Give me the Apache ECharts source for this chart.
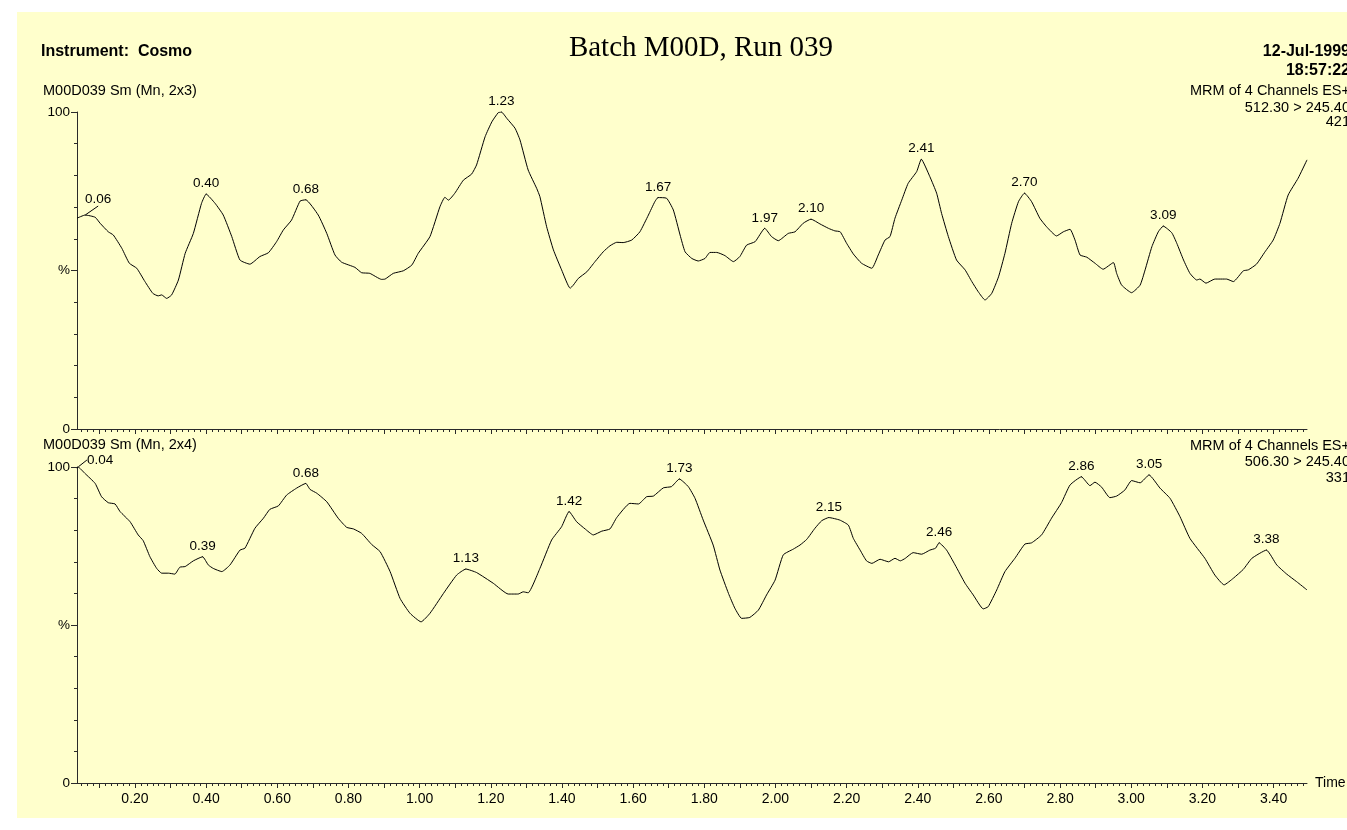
<!DOCTYPE html>
<html>
<head>
<meta charset="utf-8">
<script src="https://cdn.jsdelivr.net/npm/echarts@6/dist/echarts.min.js"></script>
<style>
  html, body { margin: 0; padding: 0; background: #ffffff; }
  #chart { width: 1347px; height: 830px; }
</style>
</head>
<body>
<div id="chart"></div>
<script>
// Trace 2x3: retention time (min) and relative intensity (%)
const topTimes = [
  0.037, 0.06, 0.088, 0.102, 0.125, 0.139, 0.163, 0.184, 0.205, 0.228, 0.250, 0.265, 0.275, 0.289, 0.303,
  0.322, 0.341, 0.364, 0.387, 0.40, 0.425, 0.448, 0.472, 0.495, 0.523, 0.551, 0.575, 0.598, 0.617, 0.640,
  0.664, 0.68, 0.715, 0.739, 0.762, 0.781, 0.818, 0.837, 0.860, 0.893, 0.903, 0.926, 0.954, 0.978, 0.996,
  1.029, 1.057, 1.071, 1.081, 1.099, 1.123, 1.146, 1.160, 1.184, 1.203, 1.221, 1.23, 1.245, 1.268, 1.282,
  1.305, 1.329, 1.338, 1.357, 1.376, 1.399, 1.423, 1.432, 1.446, 1.470, 1.493, 1.516, 1.535, 1.554, 1.572,
  1.596, 1.619, 1.643, 1.661, 1.67, 1.694, 1.713, 1.732, 1.746, 1.765, 1.783, 1.802, 1.816, 1.835, 1.858,
  1.882, 1.900, 1.919, 1.943, 1.97, 1.989, 2.008, 2.036, 2.055, 2.078, 2.10, 2.125, 2.149, 2.167, 2.182,
  2.200, 2.219, 2.242, 2.271, 2.289, 2.308, 2.322, 2.336, 2.355, 2.373, 2.397, 2.41, 2.434, 2.453, 2.467,
  2.486, 2.509, 2.533, 2.552, 2.570, 2.589, 2.608, 2.627, 2.645, 2.664, 2.683, 2.70, 2.720, 2.743, 2.762,
  2.790, 2.809, 2.828, 2.842, 2.856, 2.875, 2.898, 2.921, 2.950, 2.959, 2.973, 3.001, 3.025, 3.039, 3.058,
  3.076, 3.09, 3.114, 3.128, 3.147, 3.165, 3.184, 3.193, 3.210, 3.235, 3.268, 3.287, 3.315, 3.329, 3.352,
  3.376, 3.399, 3.418, 3.441, 3.469, 3.494
];
const topValues = [
  66.5, 67.5, 66.8, 64.9, 62.2, 61.2, 57.0, 52.3, 50.7, 46.5, 42.8, 42.0, 42.3, 41.2, 42.3,
  47.0, 55.4, 61.7, 71.2, 74.1, 71.2, 67.5, 60.7, 53.3, 52.0, 54.4, 55.6, 59.1, 62.8, 65.9,
  71.9, 72.3, 67.5, 61.7, 54.9, 52.6, 51.0, 49.3, 49.1, 47.2, 47.3, 49.1, 49.9, 51.7, 55.4,
  60.7, 70.1, 73.1, 72.2, 74.4, 78.5, 80.4, 83.3, 92.2, 96.9, 99.8, 100.0, 98.0, 94.9, 91.2,
  81.7, 75.9, 73.3, 63.8, 56.5, 50.2, 44.4, 45.4, 47.5, 49.6, 52.8, 55.9, 57.8, 58.9, 58.8,
  59.6, 62.2, 67.5, 71.7, 73.0, 72.8, 69.1, 61.2, 55.9, 53.8, 53.0, 53.8, 55.7, 55.7, 54.7,
  52.8, 54.4, 58.0, 59.1, 63.3, 60.7, 59.4, 61.7, 62.2, 64.9, 66.2, 64.7, 63.3, 62.5, 62.2,
  58.6, 55.2, 52.3, 50.7, 54.9, 59.6, 60.7, 66.5, 72.2, 77.5, 81.2, 85.1, 79.6, 74.4, 68.0,
  60.7, 53.3, 50.2, 46.5, 43.3, 40.7, 42.8, 48.0, 55.4, 64.9, 71.7, 74.4, 71.7, 66.5, 63.8,
  60.9, 62.2, 63.0, 59.6, 54.9, 54.2, 52.3, 50.4, 52.5, 49.1, 45.4, 43.0, 45.4, 50.2, 57.5,
  62.2, 64.0, 61.9, 58.6, 53.3, 49.1, 47.0, 47.3, 46.0, 47.3, 47.3, 46.5, 49.9, 50.2, 52.0,
  55.9, 59.6, 64.9, 73.8, 79.1, 84.9
];
const topPeaks = [0.06, 0.40, 0.68, 1.23, 1.67, 1.97, 2.10, 2.41, 2.70, 3.09];

// Trace 2x4
const bottomTimes = [
  0.037, 0.04, 0.059, 0.088, 0.106, 0.125, 0.144, 0.158, 0.186, 0.209, 0.223, 0.242, 0.261, 0.275, 0.294,
  0.312, 0.326, 0.341, 0.364, 0.39, 0.406, 0.420, 0.444, 0.467, 0.495, 0.509, 0.537, 0.561, 0.579, 0.603,
  0.626, 0.654, 0.68, 0.692, 0.711, 0.739, 0.771, 0.795, 0.814, 0.837, 0.865, 0.889, 0.917, 0.945, 0.973,
  1.004, 1.029, 1.067, 1.104, 1.13, 1.160, 1.207, 1.249, 1.277, 1.291, 1.305, 1.338, 1.371, 1.399, 1.42,
  1.441, 1.465, 1.488, 1.512, 1.535, 1.554, 1.591, 1.615, 1.638, 1.657, 1.685, 1.708, 1.73, 1.755, 1.774,
  1.797, 1.825, 1.844, 1.868, 1.886, 1.905, 1.928, 1.952, 1.975, 1.999, 2.022, 2.050, 2.069, 2.088, 2.111,
  2.130, 2.15, 2.181, 2.205, 2.219, 2.238, 2.256, 2.271, 2.294, 2.318, 2.336, 2.351, 2.365, 2.387, 2.411,
  2.434, 2.450, 2.46, 2.481, 2.505, 2.533, 2.556, 2.584, 2.598, 2.622, 2.645, 2.673, 2.701, 2.720, 2.748,
  2.776, 2.804, 2.828, 2.86, 2.884, 2.898, 2.917, 2.940, 2.959, 2.982, 3.001, 3.025, 3.05, 3.081, 3.109,
  3.137, 3.165, 3.207, 3.235, 3.261, 3.287, 3.315, 3.339, 3.38, 3.409, 3.437, 3.465, 3.494
];
const bottomValues = [
  99.6, 100.0, 98.0, 94.8, 90.6, 88.7, 88.3, 85.9, 82.7, 78.5, 76.7, 71.6, 67.9, 66.4, 66.4,
  66.1, 68.3, 68.5, 70.3, 71.6, 69.0, 67.9, 66.9, 69.0, 73.7, 74.3, 80.6, 83.8, 86.6, 87.7,
  91.1, 93.3, 94.8, 92.9, 91.7, 89.0, 83.8, 80.9, 80.4, 79.0, 75.5, 73.2, 66.9, 58.4, 53.7,
  51.0, 53.7, 60.0, 65.8, 67.7, 66.6, 63.2, 59.8, 59.8, 60.5, 60.2, 67.9, 76.9, 81.1, 85.9,
  82.7, 80.4, 78.5, 79.7, 80.4, 84.0, 88.5, 88.3, 90.6, 90.8, 93.4, 93.8, 96.2, 93.8, 90.1,
  83.2, 75.3, 67.4, 60.0, 55.3, 52.1, 52.4, 54.7, 59.5, 64.2, 72.2, 74.0, 75.3, 77.1, 80.6,
  83.0, 84.0, 83.2, 81.6, 77.4, 73.7, 70.3, 69.5, 70.8, 70.0, 71.1, 70.3, 71.1, 72.9, 72.4,
  73.7, 74.3, 76.0, 73.7, 69.0, 63.2, 59.5, 55.1, 55.8, 61.1, 66.9, 71.1, 75.6, 76.0, 78.5,
  83.8, 88.7, 94.3, 96.9, 94.1, 95.2, 93.6, 90.3, 90.8, 92.7, 95.7, 95.0, 97.5, 93.3, 90.1,
  84.3, 77.4, 71.1, 65.8, 62.7, 64.8, 67.6, 71.1, 73.7, 69.0, 66.1, 63.7, 61.1
];
const bottomPeaks = [0.04, 0.39, 0.68, 1.13, 1.42, 1.73, 2.15, 2.46, 2.86, 3.05, 3.38];

// Time axis
const timeMin = 0.037;
const timeMax = 3.494;
const xLabelValues = [0.2, 0.4, 0.6, 0.8, 1.0, 1.2, 1.4, 1.6, 1.8, 2.0, 2.2, 2.4, 2.6, 2.8, 3.0, 3.2, 3.4];
const yLabelText = { 0: '0', 50: '%', 100: '100' };

// Header texts
const headerLeft = 'Instrument:  Cosmo';
const headerTitle = 'Batch M00D, Run 039';
const headerDate = ['12-Jul-1999', '18:57:22'];
const topTraceName = 'M00D039 Sm (Mn, 2x3)';
const bottomTraceName = 'M00D039 Sm (Mn, 2x4)';
const topTraceInfo = ['MRM of 4 Channels ES+', '512.30 > 245.40', '421'];
const bottomTraceInfo = ['MRM of 4 Channels ES+', '506.30 > 245.40', '331'];

// Tick positions on the time axis: every 0.1 min, with 6 minor steps between
const majorTicks = [];
for (let k = 1; k <= 34; k++) majorTicks.push(k / 10);
const minorTicks = [];
for (let k = 3; k <= 209; k++) if (k % 6 !== 0) minorTicks.push(k / 60);

const FONT = '"Liberation Sans", Arial, sans-serif';
const INK = '#000000';
const AXIS = '#2a2a2a';

// Peak labels placed beside the peak with a short leader line:
// (dx, dy) = label centre relative to the peak, (ex, ey) = leader end relative to the peak
const offsetLabels = {
  top: { index: 1, dx: 13, dy: -16, ex: 7.5, ey: -8.5 },
  bottom: { index: 1, dx: 22, dy: -7, ex: 8.5, ey: -5 }
};

function buildData(times, values, peaks) {
  return times.map(function (t, i) {
    const item = { value: [t, values[i]] };
    if (peaks.some(function (p) { return Math.abs(p - t) < 1e-9; })) {
      item.symbol = 'circle';
      item.symbolSize = 1;
      item.label = { show: true };
    }
    return item;
  });
}

function traceSeries(name, data, xIdx, yIdx, special) {
  const d = data.slice();
  d[special.index] = Object.assign({}, d[special.index], {
    labelLine: { show: true, lineStyle: { color: INK, width: 1 } }
  });
  return {
    name: name,
    type: 'line',
    xAxisIndex: xIdx,
    yAxisIndex: yIdx,
    data: d,
    symbol: 'none',
    showSymbol: true,
    smooth: 0.15,
    silent: true,
    lineStyle: { color: INK, width: 1 },
    itemStyle: { color: INK },
    label: {
      show: false,
      position: 'top',
      distance: 3,
      color: INK,
      fontFamily: FONT,
      fontSize: 13.5,
      formatter: function (p) { return p.value[0].toFixed(2); }
    },
    labelLine: { show: false },
    labelLayout: function (p) {
      if (p.dataIndex === special.index) {
        const px = p.rect.x + p.rect.width / 2;
        const py = p.rect.y + p.rect.height / 2;
        return {
          x: px + special.dx,
          y: py + special.dy,
          align: 'center',
          verticalAlign: 'middle',
          labelLinePoints: [
            [px, py],
            [px + special.ex / 2, py + special.ey / 2],
            [px + special.ex, py + special.ey]
          ]
        };
      }
      return {};
    }
  };
}

function timeAxis(gridIndex, withLabels) {
  return [
    {
      type: 'value', gridIndex: gridIndex, min: timeMin, max: timeMax,
      position: 'bottom',
      name: withLabels ? 'Time' : '',
      nameLocation: 'end', nameGap: 8,
      nameTextStyle: { color: INK, fontFamily: FONT, fontSize: 14 },
      axisLine: { show: true, onZero: false, lineStyle: { color: AXIS, width: 1 } },
      axisTick: { show: true, inside: false, length: 5, customValues: majorTicks, lineStyle: { color: AXIS } },
      axisLabel: {
        show: withLabels, customValues: xLabelValues, margin: 9,
        color: INK, fontFamily: FONT, fontSize: 14,
        formatter: function (v) { return v.toFixed(2); }
      },
      splitLine: { show: false }
    },
    {
      type: 'value', gridIndex: gridIndex, min: timeMin, max: timeMax,
      position: 'bottom',
      axisLine: { show: false, onZero: false },
      axisTick: { show: true, inside: false, length: 3, customValues: minorTicks, lineStyle: { color: AXIS } },
      axisLabel: { show: false },
      splitLine: { show: false }
    }
  ];
}

function intensityAxis(gridIndex) {
  return {
    type: 'value', gridIndex: gridIndex, min: 0, max: 100, interval: 50,
    axisLine: { show: true, onZero: false, lineStyle: { color: AXIS, width: 1 } },
    axisTick: { show: true, length: 6, lineStyle: { color: AXIS } },
    minorTick: { show: true, splitNumber: 5, length: 3, lineStyle: { color: AXIS } },
    axisLabel: {
      margin: 7, color: INK, fontFamily: FONT, fontSize: 13.5,
      formatter: function (v) { return yLabelText[v] !== undefined ? yLabelText[v] : ''; }
    },
    splitLine: { show: false },
    minorSplitLine: { show: false }
  };
}

function txt(x, y, text, size, align, bold, family) {
  return {
    type: 'text', x: x, y: y, silent: true,
    style: {
      text: text, fill: INK,
      fontSize: size, fontFamily: family || FONT, fontWeight: bold ? 'bold' : 'normal',
      align: align, verticalAlign: 'middle',
      textAlign: align, textVerticalAlign: 'middle'
    }
  };
}

const chart = echarts.init(document.getElementById('chart'), null, { renderer: 'canvas' });

const graphics = [
  { type: 'rect', z: -10, silent: true, shape: { x: 17, y: 12, width: 1340, height: 806 }, style: { fill: '#FFFFCC' } },
  txt(41, 52, headerLeft, 16, 'left', true),
  txt(701, 48, headerTitle, 29, 'center', false, '"Liberation Serif", "Times New Roman", serif'),
  txt(1350, 52, headerDate[0], 16, 'right', true),
  txt(1350, 71, headerDate[1], 16, 'right', true),
  txt(43, 91, topTraceName, 14.5, 'left', false),
  txt(1350, 91, topTraceInfo[0], 14.5, 'right', false),
  txt(1350, 107.5, topTraceInfo[1], 14.5, 'right', false),
  txt(1350, 122, topTraceInfo[2], 14.5, 'right', false),
  txt(43, 445, bottomTraceName, 14.5, 'left', false),
  txt(1350, 446, bottomTraceInfo[0], 14.5, 'right', false),
  txt(1350, 462, bottomTraceInfo[1], 14.5, 'right', false),
  txt(1350, 478, bottomTraceInfo[2], 14.5, 'right', false)
];

chart.setOption({
  animation: false,
  backgroundColor: 'transparent',
  graphic: { elements: graphics },
  grid: [
    { left: 77, top: 112, width: 1230, height: 317 },
    { left: 77, top: 467, width: 1230, height: 316 }
  ],
  xAxis: timeAxis(0, false).concat(timeAxis(1, true)),
  yAxis: [intensityAxis(0), intensityAxis(1)],
  series: [
    traceSeries('2x3', buildData(topTimes, topValues, topPeaks), 0, 0, offsetLabels.top),
    traceSeries('2x4', buildData(bottomTimes, bottomValues, bottomPeaks), 2, 1, offsetLabels.bottom)
  ]
});
</script>
</body>
</html>
